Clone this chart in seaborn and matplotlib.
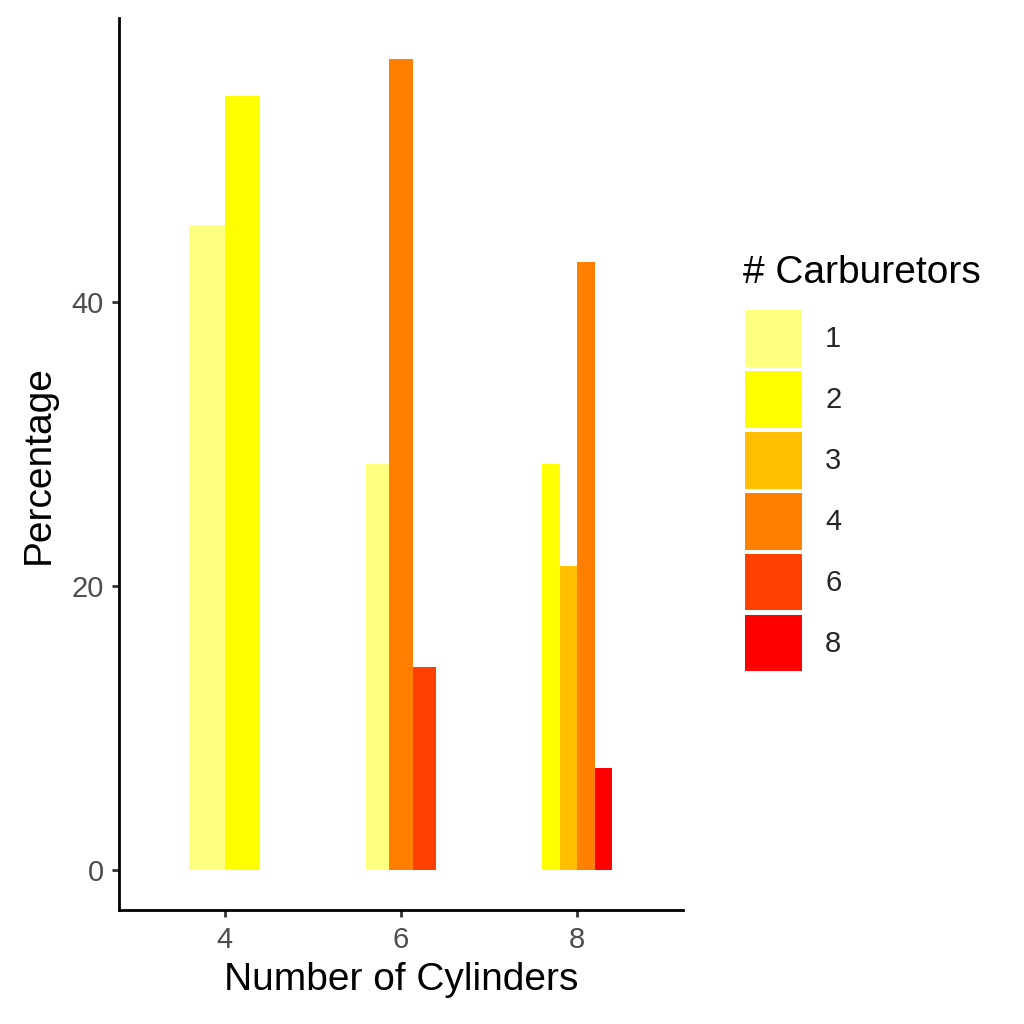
import pandas as pd
import matplotlib.pyplot as plt
import matplotlib.patches as mpatches
import seaborn as sns

# Procent masini per numar de carburatoare, in fiecare grup de cilindri
cilindri = ["4", "4", "6", "6", "6", "8", "8", "8", "8"]
carburatoare = ["1", "2", "1", "4", "6", "2", "3", "4", "8"]
procent = [45.45, 54.55, 28.57, 57.14, 14.29, 28.57, 21.43, 42.86, 7.14]

ordine_cil = ["4", "6", "8"]
ordine_carb = ["1", "2", "3", "4", "6", "8"]
culori = ["#FFFF80", "#FFFF00", "#FFBF00", "#FF8000", "#FF4000", "#FF0000"]
paleta = dict(zip(ordine_carb, culori))

df = pd.DataFrame({"cyl": cilindri, "carb": carburatoare, "pct": procent})

sns.set_style("ticks")
plt.rcParams["font.family"] = ["Liberation Sans", "DejaVu Sans"]

fig = plt.figure(figsize=(10.24, 10.24), dpi=100)
ax = fig.add_axes([0.116, 0.111, 0.551, 0.871])

# fiecare grup are latime totala 0.4, impartita la barele prezente
for c in ordine_cil:
    sub = df[df["cyl"] == c]
    prezente = [k for k in ordine_carb if k in set(sub["carb"])]
    sns.barplot(data=sub, x="cyl", y="pct", hue="carb", order=ordine_cil,
                hue_order=prezente, palette=paleta, width=0.4, dodge=True,
                saturation=1, errorbar=None, legend=False, ax=ax,
                linewidth=0)

ax.set_xlim(-0.6, 2.6)
ax.set_ylim(-2.857, 60.0)
ax.set_yticks([0, 20, 40])
ax.set_xlabel("Number of Cylinders", fontsize=28, color="black", labelpad=6)
ax.set_ylabel("Percentage", fontsize=28, color="black", labelpad=10)
ax.tick_params(axis="both", labelsize=21, labelcolor="#4D4D4D", color="#333333",
               length=5, width=2, pad=6)
for s in ["top", "right"]:
    ax.spines[s].set_visible(False)
for s in ["left", "bottom"]:
    ax.spines[s].set_color("black")
    ax.spines[s].set_linewidth(2)

# titlul legendei separat, ca sa controlez distanta pana la chei
fig.text(743 / 1024, 1 - 273 / 1024, "# Carburetors", fontsize=28, color="black",
         ha="left", va="center")
handles = [mpatches.Patch(facecolor=paleta[k], edgecolor="none", label=k) for k in ordine_carb]
leg = fig.legend(handles=handles, loc="upper left",
                 bbox_to_anchor=(745 / 1024, 1 - 310 / 1024), frameon=False,
                 fontsize=21, handlelength=1.95, handleheight=2.62,
                 labelspacing=0.14, handletextpad=0.8, borderpad=0, borderaxespad=0)

fig.savefig("out.png", dpi=100)
